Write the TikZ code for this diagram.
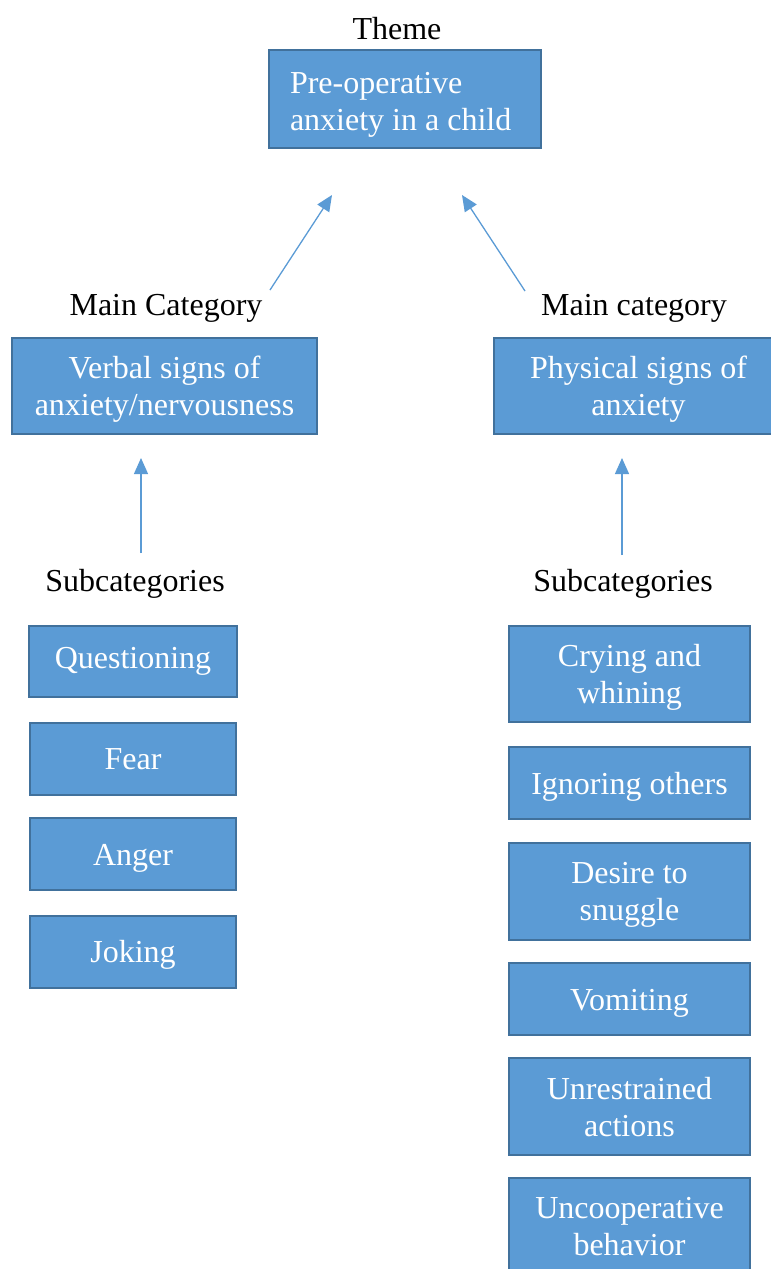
\documentclass[tikz,border=0pt]{standalone}
\usepackage{fontspec}
\setmainfont{Liberation Serif}
\usetikzlibrary{positioning,arrows.meta}
\definecolor{boxfill}{HTML}{5B9BD5}
\definecolor{boxedge}{HTML}{41719C}

\begin{document}
\begin{tikzpicture}[x=1pt,y=-1pt,on grid,
		plainbox/.style={draw=boxedge,fill=boxfill,line width=2pt,text=white,inner sep=0pt,
			font=\fontsize{32}{37}\selectfont},
		box/.style={plainbox,align=center,text depth=-4pt},
		onebox/.style={box,text height=22pt},
		leftbox/.style={onebox,minimum width=206pt,minimum height=72pt},
		rightbox/.style={box,minimum width=241pt,minimum height=97pt},
		heading/.style={inner sep=0pt,font=\fontsize{32}{37}\selectfont},
		link/.style={color=boxfill,line width=1.3pt,-{Triangle[length=16pt,width=14pt]}}]
		\useasboundingbox (0,0) rectangle (771,1269);
		
		% theme
		\node[heading]	(theme_lbl)	at (397,29)		{Theme};
		\node[plainbox,align=flush left,text width=230pt,inner xsep=21pt,text height=32pt,minimum height=98pt]
						(theme)		at (405,99)		{Pre-operative\\anxiety in a child};
		
		% main categories
		\node[heading]	(verbal_lbl)	at (166,308)	{Main Category};
		\node[box,minimum width=305pt,minimum height=96pt]
						(verbal)		at (164.5,386)	{Verbal signs of\\anxiety/nervousness};
		\node[heading]	(physical_lbl)	at (634,308)	{Main category};
		\node[box,minimum width=289pt,minimum height=96pt]
						(physical)		at (638.5,386)	{Physical signs of\\anxiety};
		
		% subcategories, left
		\node[heading]	(sub_l)		at (135,584)	{Subcategories};
		\node[leftbox,minimum width=208pt,minimum height=71pt,text depth=9pt]
						(quest)		at (133,661.5)	{Questioning};
		\node[leftbox]	(fear)		[below=97pt of quest]	{Fear};
		\node[leftbox]	(anger)		[below=95.5pt of fear]	{Anger};
		\node[leftbox]	(joke)		[below=97.5pt of anger]	{Joking};
		
		% subcategories, right
		\node[heading]	(sub_r)		at (623,584)	{Subcategories};
		\node[rightbox,minimum height=96pt]
						(cry)		at (629.5,674)	{Crying and\\whining};
		\node[rightbox,onebox,minimum height=72pt]
						(ignore)	[below=109pt of cry]		{Ignoring others};
		\node[rightbox]	(snuggle)	[below=108.5pt of ignore]	{Desire to\\snuggle};
		\node[rightbox,onebox,minimum height=72pt]
						(vomit)		[below=107.5pt of snuggle]	{Vomiting};
		\node[rightbox]	(unrest)	[below=107.5pt of vomit]	{Unrestrained\\actions};
		\node[rightbox]	(uncoop)	[below=120pt of unrest]		{Uncooperative\\behavior};
		
		% arrow ends
		\coordinate (a_l0) at (270,290);	\coordinate (a_l1) at (332,195);
		\coordinate (a_r0) at (525,291);	\coordinate (a_r1) at (462,195);
		\coordinate (b_l0) at (141,553);	\coordinate (b_l1) at (141,458);
		\coordinate (b_r0) at (622,555);	\coordinate (b_r1) at (622,458);
		
		\draw[link] (a_l0) -- (a_l1);
		\draw[link] (a_r0) -- (a_r1);
		\draw[link] (b_l0) -- (b_l1);
		\draw[link] (b_r0) -- (b_r1);
	\end{tikzpicture}
\end{document}
